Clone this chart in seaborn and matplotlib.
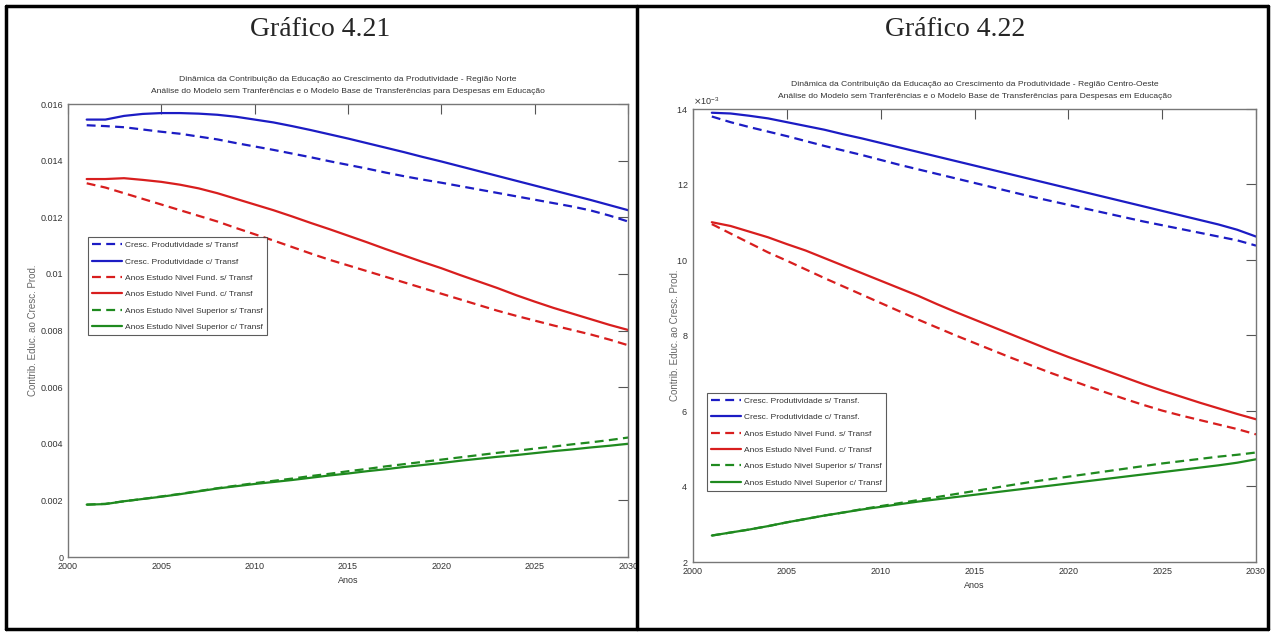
import matplotlib
matplotlib.use("Agg")
import matplotlib.pyplot as plt
import matplotlib.ticker as mticker
from matplotlib.lines import Line2D
import seaborn as sns
import pandas as pd

# anos das series
anos = list(range(2001, 2031))

# Regiao Norte (valores em 1e-3)
norte_prod_s = [15.25, 15.22, 15.18, 15.10, 15.02, 14.95, 14.85, 14.75, 14.62, 14.50,
                14.38, 14.25, 14.12, 13.98, 13.85, 13.72, 13.58, 13.45, 13.33, 13.22,
                13.10, 12.98, 12.86, 12.74, 12.62, 12.50, 12.38, 12.24, 12.06, 11.85]
norte_prod_c = [15.45, 15.45, 15.58, 15.65, 15.68, 15.68, 15.66, 15.62, 15.55, 15.45,
                15.35, 15.22, 15.08, 14.93, 14.78, 14.62, 14.46, 14.30, 14.13, 13.97,
                13.80, 13.63, 13.46, 13.29, 13.12, 12.95, 12.78, 12.61, 12.43, 12.25]
norte_fund_s = [13.20, 13.05, 12.85, 12.65, 12.45, 12.25, 12.05, 11.85, 11.62, 11.40,
                11.18, 10.95, 10.72, 10.50, 10.30, 10.10, 9.90, 9.70, 9.50, 9.30,
                9.10, 8.90, 8.70, 8.52, 8.35, 8.18, 8.02, 7.86, 7.68, 7.48]
norte_fund_c = [13.35, 13.35, 13.38, 13.32, 13.25, 13.15, 13.02, 12.85, 12.65, 12.45,
                12.25, 12.03, 11.80, 11.58, 11.35, 11.12, 10.88, 10.65, 10.42, 10.20,
                9.96, 9.73, 9.50, 9.25, 9.02, 8.80, 8.60, 8.40, 8.20, 8.02]
norte_sup_s = [1.85, 1.88, 1.97, 2.05, 2.14, 2.23, 2.33, 2.43, 2.52, 2.61,
               2.69, 2.77, 2.86, 2.94, 3.03, 3.11, 3.20, 3.28, 3.36, 3.44,
               3.52, 3.60, 3.68, 3.75, 3.83, 3.90, 3.98, 4.05, 4.13, 4.22]
norte_sup_c = [1.85, 1.87, 1.97, 2.05, 2.13, 2.22, 2.32, 2.42, 2.50, 2.58,
               2.65, 2.72, 2.80, 2.88, 2.95, 3.03, 3.10, 3.18, 3.25, 3.32,
               3.40, 3.47, 3.54, 3.60, 3.67, 3.74, 3.80, 3.87, 3.93, 4.00]

# Regiao Centro-Oeste (valores em 1e-3)
co_prod_s = [13.80, 13.65, 13.52, 13.40, 13.28, 13.15, 13.02, 12.90, 12.78, 12.65,
             12.52, 12.40, 12.28, 12.16, 12.04, 11.92, 11.80, 11.68, 11.57, 11.46,
             11.35, 11.24, 11.13, 11.02, 10.92, 10.82, 10.72, 10.62, 10.52, 10.38]
co_prod_c = [13.90, 13.88, 13.82, 13.75, 13.65, 13.55, 13.45, 13.33, 13.22, 13.10,
             12.98, 12.86, 12.74, 12.62, 12.50, 12.38, 12.26, 12.14, 12.02, 11.90,
             11.78, 11.66, 11.54, 11.42, 11.30, 11.18, 11.06, 10.94, 10.80, 10.62]
co_fund_s = [10.95, 10.70, 10.45, 10.20, 9.98, 9.75, 9.52, 9.30, 9.08, 8.86,
             8.64, 8.42, 8.21, 8.00, 7.80, 7.60, 7.40, 7.21, 7.02, 6.84,
             6.66, 6.49, 6.32, 6.16, 6.01, 5.88, 5.76, 5.64, 5.52, 5.38]
co_fund_c = [11.00, 10.90, 10.75, 10.60, 10.42, 10.25, 10.05, 9.85, 9.65, 9.45,
             9.25, 9.05, 8.83, 8.62, 8.42, 8.22, 8.02, 7.82, 7.62, 7.43,
             7.25, 7.07, 6.89, 6.71, 6.54, 6.38, 6.22, 6.07, 5.92, 5.78]
co_sup_s = [2.70, 2.78, 2.86, 2.95, 3.05, 3.14, 3.23, 3.31, 3.40, 3.48,
            3.56, 3.64, 3.72, 3.80, 3.88, 3.96, 4.04, 4.12, 4.19, 4.26,
            4.33, 4.40, 4.47, 4.54, 4.61, 4.67, 4.73, 4.79, 4.84, 4.90]
co_sup_c = [2.70, 2.78, 2.86, 2.95, 3.05, 3.14, 3.23, 3.31, 3.39, 3.46,
            3.53, 3.60, 3.66, 3.72, 3.78, 3.84, 3.90, 3.96, 4.02, 4.08,
            4.14, 4.20, 4.26, 4.32, 4.38, 4.44, 4.50, 4.56, 4.63, 4.72]

labels_norte = ["Cresc. Produtividade s/ Transf", "Cresc. Produtividade c/ Transf",
                "Anos Estudo Nivel Fund. s/ Transf", "Anos Estudo Nivel Fund. c/ Transf",
                "Anos Estudo Nivel Superior s/ Transf", "Anos Estudo Nivel Superior c/ Transf"]
labels_co = ["Cresc. Produtividade s/ Transf.", "Cresc. Produtividade c/ Transf.",
             "Anos Estudo Nivel Fund. s/ Transf", "Anos Estudo Nivel Fund. c/ Transf",
             "Anos Estudo Nivel Superior s/ Transf", "Anos Estudo Nivel Superior c/ Transf"]

sub1 = "Dinâmica da Contribuição da Educação ao Crescimento da Produtividade - Região "
sub2 = "Análise do Modelo sem Tranferências e o Modelo Base de Transferências para Despesas em Educação"

cores = ["#1c1cc4", "#1c1cc4", "#d81e1e", "#d81e1e", "#1f8a1f", "#1f8a1f"]
estilos = [(0, (4, 2.4)), "-", (0, (4, 2.4)), "-", (0, (4, 2.4)), "-"]

sns.set_style("white")
plt.rcParams["font.family"] = ["Liberation Sans", "DejaVu Sans"]
cinza = "#555555"


def painel(ax, series, labels, regiao, ymin, ymax, ylab_x):
    for vals, lab, cor, ls in zip(series, labels, cores, estilos):
        df = pd.DataFrame({"ano": anos, "valor": [v * 1e-3 for v in vals]})
        sns.lineplot(data=df, x="ano", y="valor", ax=ax, color=cor, linestyle=ls,
                     lw=1.6, label=lab)
    ax.set_xlim(2000, 2030)
    ax.set_ylim(ymin, ymax)
    ax.set_xticks(range(2000, 2031, 5))
    ax.set_title(sub1 + regiao + "\n" + sub2, fontsize=6.1, color="#333333", pad=8,
                 linespacing=2.0)
    ax.set_xlabel("Anos", fontsize=6.5, color="#333333", labelpad=4)
    ax.set_ylabel("Contrib. Educ. ao Cresc. Prod.", fontsize=7, color="#666666")
    ax.yaxis.set_label_coords(ylab_x, 0.5)
    ax.tick_params(direction="in", length=7, width=0.8, colors=cinza, labelsize=6.5,
                   top=True, right=True, labelcolor="#333333")
    for s in ax.spines.values():
        s.set_color("#777777")
        s.set_linewidth(1.0)


fig = plt.figure(figsize=(12.74, 6.35), dpi=100)
ax1 = fig.add_axes([0.0534, 0.1228, 0.4396, 0.7134])
ax2 = fig.add_axes([0.5440, 0.1150, 0.4419, 0.7134])

painel(ax1, [norte_prod_s, norte_prod_c, norte_fund_s, norte_fund_c, norte_sup_s, norte_sup_c],
       labels_norte, "Norte", 0, 0.016, -0.053)
ax1.set_yticks([i * 0.002 for i in range(9)])
ax1.yaxis.set_major_formatter(mticker.FuncFormatter(lambda v, p: "%g" % round(v, 4)))

painel(ax2, [co_prod_s, co_prod_c, co_fund_s, co_fund_c, co_sup_s, co_sup_c],
       labels_co, "Centro-Oeste", 0.002, 0.014, -0.024)
ax2.set_yticks([i * 0.002 for i in range(1, 8)])
fmt = mticker.ScalarFormatter(useMathText=True)
fmt.set_powerlimits((-3, -3))
ax2.yaxis.set_major_formatter(fmt)
ax2.yaxis.get_offset_text().set_fontsize(6.5)
ax2.yaxis.get_offset_text().set_color("#333333")

for ax, pos in [(ax1, (0.036, 0.706)), (ax2, (0.025, 0.373))]:
    leg = ax.legend(loc="upper left", bbox_to_anchor=pos, fontsize=6, frameon=True,
                    fancybox=False, handlelength=3.6, labelspacing=1.02,
                    borderpad=0.5, handletextpad=0.3, borderaxespad=0)
    leg.get_frame().set_edgecolor("#333333")
    leg.get_frame().set_linewidth(0.8)
    for t in leg.get_texts():
        t.set_color("#333333")

# titulos dos graficos
fig.text(320 / 1274, 1 - 29 / 635, "Gráfico 4.21", ha="center", va="center",
         fontsize=20, family="Liberation Serif")
fig.text(955 / 1274, 1 - 29 / 635, "Gráfico 4.22", ha="center", va="center",
         fontsize=20, family="Liberation Serif")

# moldura da tabela
x0, x1, xm = 6 / 1274, 1268 / 1274, 637 / 1274
y0, y1 = 1 - 629 / 635, 1 - 6 / 635
for xs, ys in [([x0, x1], [y0, y0]), ([x0, x1], [y1, y1]), ([x0, x0], [y0, y1]),
               ([x1, x1], [y0, y1]), ([xm, xm], [y0, y1])]:
    fig.add_artist(Line2D(xs, ys, color="black", lw=2.5, transform=fig.transFigure))

fig.savefig("out.png", dpi=100)
